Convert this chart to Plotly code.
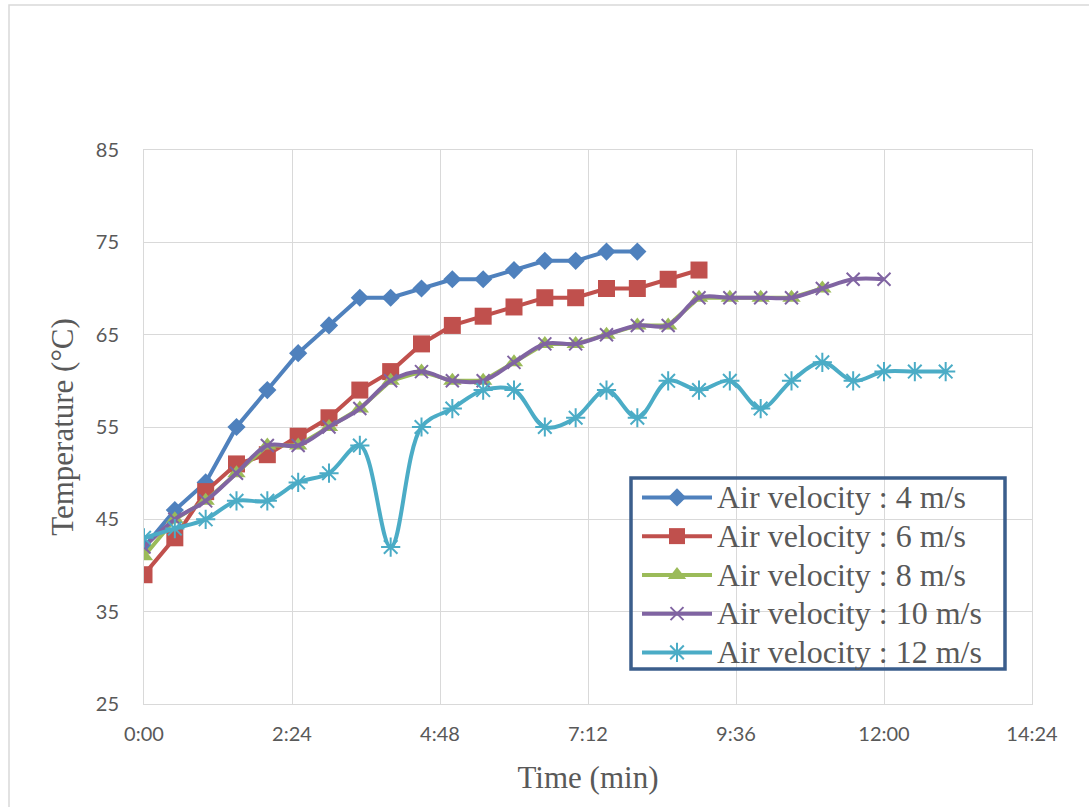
import plotly.graph_objects as go

# time in seconds (every 30 s)
time_4 = [i * 30 for i in range(17)]
temp_4 = [42, 46, 49, 55, 59, 63, 66, 69, 69, 70, 71, 71, 72, 73, 73, 74, 74]

time_6 = [i * 30 for i in range(19)]
temp_6 = [39, 43, 48, 51, 52, 54, 56, 59, 61, 64, 66, 67, 68, 69, 69, 70, 70, 71, 72]

time_8 = [i * 30 for i in range(23)]
temp_8 = [41, 45, 47, 50, 53, 53, 55, 57, 60, 61, 60, 60, 62, 64, 64, 65, 66, 66, 69, 69, 69, 69, 70]

time_10 = [i * 30 for i in range(25)]
temp_10 = [42, 45, 47, 50, 53, 53, 55, 57, 60, 61, 60, 60, 62, 64, 64, 65, 66, 66, 69, 69, 69, 69, 70, 71, 71]

time_12 = [i * 30 for i in range(27)]
temp_12 = [43, 44, 45, 47, 47, 49, 50, 53, 42, 55, 57, 59, 59, 55, 56, 59, 56, 60, 59, 60, 57, 60, 62, 60, 61, 61, 61]

x_tickvals = [0, 144, 288, 432, 576, 720, 864]
x_ticktext = ["0:00", "2:24", "4:48", "7:12", "9:36", "12:00", "14:24"]
y_tickvals = [25, 35, 45, 55, 65, 75, 85]

names = ["Air velocity : 4 m/s", "Air velocity : 6 m/s", "Air velocity : 8 m/s",
         "Air velocity : 10 m/s", "Air velocity : 12 m/s"]


def lbl(s):
    return '<span style="font-size:32px">' + s + '</span>'


fig = go.Figure()
fig.add_trace(go.Scatter(x=time_4, y=temp_4, name=lbl(names[0]), mode="lines+markers",
                         line=dict(color="#4F81BD", width=4),
                         marker=dict(symbol="diamond", size=14, color="#4F81BD")))
fig.add_trace(go.Scatter(x=time_6, y=temp_6, name=lbl(names[1]), mode="lines+markers",
                         line=dict(color="#C0504D", width=4),
                         marker=dict(symbol="square", size=17, color="#C0504D")))
fig.add_trace(go.Scatter(x=time_8, y=temp_8, name=lbl(names[2]), mode="lines+markers",
                         line=dict(color="#9BBB59", width=4),
                         marker=dict(symbol="triangle-up", size=16, color="#9BBB59")))
fig.add_trace(go.Scatter(x=time_10, y=temp_10, name=lbl(names[3]), mode="lines+markers",
                         line=dict(color="#8064A2", width=4, shape="spline", smoothing=1),
                         marker=dict(symbol="x-thin-open", size=13,
                                     line=dict(color="#8064A2", width=2))))
fig.add_trace(go.Scatter(x=time_12, y=temp_12, name=lbl(names[4]), mode="lines+markers",
                         line=dict(color="#4BACC6", width=4, shape="spline", smoothing=1),
                         marker=dict(symbol="asterisk-open", size=16,
                                     line=dict(color="#4BACC6", width=2))))

grid = "#D9D9D9"
serif = "Liberation Serif, Times New Roman, serif"
W, L, T, H = 888, 144, 150, 554


def px_x(p):
    return (p - L) / W


def px_y(p):
    return (T + H - p) / H


fig.update_layout(
    width=1089, height=807, autosize=False,
    margin=dict(l=144, r=57, t=150, b=103),
    paper_bgcolor="white", plot_bgcolor="white",
    font=dict(family="Lato, Open Sans, sans-serif", color="#595959"),
    showlegend=True,
    legend=dict(x=px_x(637), y=px_y(473), xanchor="left", yanchor="top",
                bgcolor="rgba(0,0,0,0)", borderwidth=0,
                itemwidth=70,
                font=dict(family=serif, size=27.5, color="#595959"),
                tracegroupgap=0),
    xaxis=dict(range=[0, 864], tickvals=x_tickvals, ticktext=x_ticktext,
               showgrid=True, gridcolor=grid, gridwidth=1,
               showline=True, linecolor=grid, linewidth=1, mirror=True,
               zeroline=False, ticks="", ticklabelstandoff=12,
               tickfont=dict(size=20, color="#595959"),
               title=dict(text="Time (min)", standoff=22,
                          font=dict(family=serif, size=31, color="#595959"))),
    yaxis=dict(range=[25, 85], tickvals=y_tickvals,
               showgrid=True, gridcolor=grid, gridwidth=1,
               showline=True, linecolor=grid, linewidth=1, mirror=True,
               zeroline=False, ticks="", ticklabelstandoff=20,
               tickfont=dict(size=20, color="#595959"),
               title=dict(text="Temperature (°C)", standoff=12,
                          font=dict(family=serif, size=31, color="#595959"))),
    shapes=[
        dict(type="rect", xref="paper", yref="paper",
             x0=px_x(9), x1=px_x(1100), y0=px_y(820), y1=px_y(5),
             line=dict(color="#D9D9D9", width=1.5), fillcolor="rgba(0,0,0,0)", layer="below"),
        dict(type="rect", xref="paper", yref="paper",
             x0=px_x(631), x1=px_x(1005), y0=px_y(669), y1=px_y(478),
             line=dict(color="#3B5E8C", width=3.5), fillcolor="rgba(0,0,0,0)", layer="above"),
    ],
)

fig.write_html("out.html")
